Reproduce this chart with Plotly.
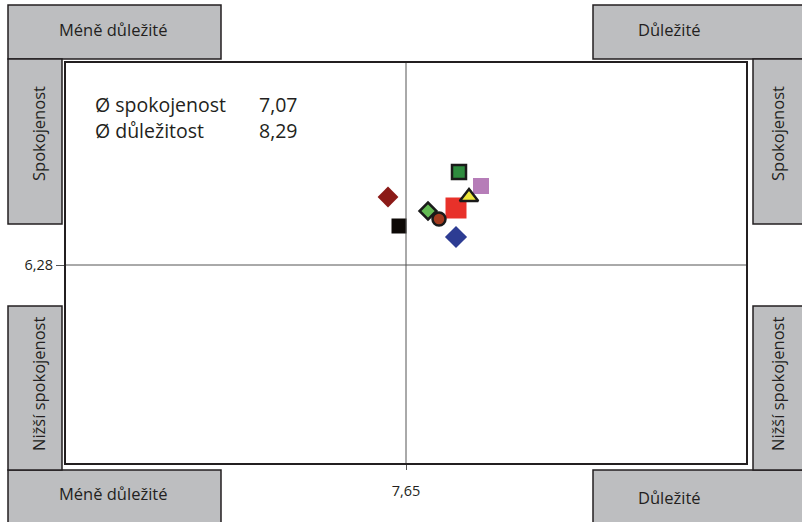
import plotly.graph_objects as go

# ---- data ----
importance = [8.15, 7.47, 7.58, 8.18, 8.40, 8.28, 7.87, 7.98, 8.15]
satisfaction = [6.85, 6.96, 6.67, 7.21, 7.07, 6.96, 6.82, 6.74, 6.56]
symbols = ["square", "diamond", "square", "square", "square", "triangle-up", "diamond", "circle", "diamond"]
colors = ["#E8312A", "#8B1A17", "#0D0906", "#2E8B3E", "#B67DB8", "#EDE63A", "#63BA53", "#A33A1E", "#2D3C93"]
outline = [0, 0, 0, 2.5, 0, 2.5, 2.5, 2.5, 0]
sizes = [21, 16, 15, 14, 16, 16, 13, 13, 17]

mean_x = 7.65
mean_y = 6.28
x_ticks = [7.65]
x_ticktext = ["7,65"]
y_ticks = [6.28]
y_ticktext = ["6,28"]
avg_labels = ["Ø spokojenost", "Ø důležitost"]
avg_values = ["7,07", "8,29"]

box_top_left = "Méně důležité"
box_top_right = "Důležité"
box_side_top = "Spokojenost"
box_side_bottom = "Nižší spokojenost"

FONT = "Open Sans"

fig = go.Figure()
fig.add_trace(go.Scatter(
    x=importance, y=satisfaction, mode="markers",
    marker=dict(symbol=symbols, color=colors, size=sizes, opacity=1,
                line=dict(color="#1A1A1A", width=outline)),
    showlegend=False, hoverinfo="skip",
))

# crosshair lines
fig.add_shape(type="line", xref="x", yref="paper", x0=mean_x, x1=mean_x, y0=0, y1=1,
              line=dict(color="#555555", width=1))
fig.add_shape(type="line", xref="paper", yref="y", x0=0, x1=1, y0=mean_y, y1=mean_y,
              line=dict(color="#555555", width=1))

L, T, R, B = 66, 63, 746, 463
W, H = R - L, B - T


def px(xp):
    return (xp - L) / W


def py(yp):
    return (B - yp) / H


def box(x0, y0, x1, y1):
    fig.add_shape(type="rect", xref="paper", yref="paper",
                  x0=px(x0), x1=px(x1), y0=py(y1), y1=py(y0),
                  fillcolor="#BDBEC0", line=dict(color="#231F20", width=1.5), layer="above")


def label(x, y, text, angle=0, size=16.5):
    fig.add_annotation(xref="paper", yref="paper", x=px(x), y=py(y), text=text,
                       showarrow=False, textangle=angle,
                       font=dict(family=FONT, size=size, color="#231F20"),
                       xanchor="center", yanchor="middle")


# horizontal boxes
box(8, 5, 221, 59)
box(593, 5, 810, 59)
box(8, 470, 221, 530)
box(593, 470, 810, 530)
# vertical boxes
box(8, 59, 62, 224)
box(753, 59, 810, 224)
box(8, 306, 62, 470)
box(753, 306, 810, 470)

label(113, 30, box_top_left)
label(669, 30, box_top_right)
label(113, 494, box_top_left)
label(669, 497, box_top_right)
label(38, 134, box_side_top, angle=-90)
label(777, 134, box_side_top, angle=-90)
label(38, 384, box_side_bottom, angle=-90)
label(777, 384, box_side_bottom, angle=-90)

for i, (t, v) in enumerate(zip(avg_labels, avg_values)):
    yy = 104 + i * 26
    fig.add_annotation(xref="paper", yref="paper", x=px(93), y=py(yy), text=t,
                       showarrow=False, xanchor="left", yanchor="middle",
                       font=dict(family=FONT, size=19.5, color="#231F20"))
    fig.add_annotation(xref="paper", yref="paper", x=px(257), y=py(yy), text=v,
                       showarrow=False, xanchor="left", yanchor="middle",
                       font=dict(family=FONT, size=19.5, color="#231F20"))

fig.update_xaxes(range=[mean_x - 3.4, mean_x + 3.4], showgrid=False, zeroline=False,
                 showline=True, linecolor="#231F20", linewidth=2, mirror=True,
                 tickvals=x_ticks, ticktext=x_ticktext, ticks="outside", ticklen=5,
                 tickcolor="#555555", ticklabelstandoff=9,
                 tickfont=dict(family=FONT, size=14.5, color="#231F20"))
fig.update_yaxes(range=[mean_y - 1.98, mean_y + 2.02], showgrid=False, zeroline=False,
                 showline=True, linecolor="#231F20", linewidth=2, mirror=True,
                 tickvals=y_ticks, ticktext=y_ticktext, ticks="outside", ticklen=8,
                 tickcolor="#555555",
                 tickfont=dict(family=FONT, size=14.5, color="#231F20"))

fig.update_layout(
    width=802, height=522,
    margin=dict(l=L, r=802 - R, t=T, b=522 - B),
    paper_bgcolor="white", plot_bgcolor="white",
)

fig.write_html("out.html")
